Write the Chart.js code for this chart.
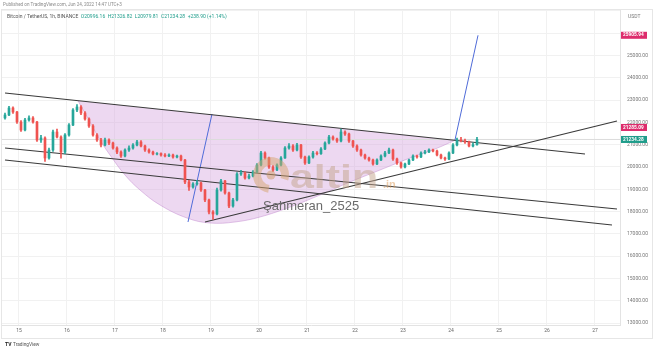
<!DOCTYPE html>
<html>
<head>
<meta charset="utf-8">
<script src="https://cdn.jsdelivr.net/npm/chart.js@4.4.0/dist/chart.umd.min.js"></script>
<style>
  html, body { margin: 0; padding: 0; background: #fff; }
</style>
</head>
<body>
<canvas id="btcChart" width="654" height="352"></canvas>
<script>
// BTC/USDT 1h (shown as 2h candles), 14 Jun 17:00 -> 24 Jun 14:00
const firstCandleDay = 14.7083
const candleStep = 1 / 12
const firstOpen = 22200
const closes = [22332, 22646, 22466, 22018, 21659, 22107, 22197, 22018, 21211, 21300, 20404, 20762, 21569, 21345, 20673, 21435, 21883, 22556, 22690, 22421,
  22152, 21838, 21435, 21211, 20986, 21211, 21076, 20852, 20673, 20493, 20762, 20852, 20986, 21121, 20942, 20762, 20673, 20583, 20600, 20538,
  20493, 20538, 20448, 20493, 20314, 19327, 19103, 19238, 19283, 18969, 18520, 17982, 17893, 18969, 19372, 18834, 18251, 18520, 19686, 19731,
  19507, 19596, 19776, 20090, 20628, 20404, 20000, 19865, 20090, 20404, 20852, 20942, 20762, 20986, 20448, 20179, 20448, 20628, 20600, 20807,
  21076, 21345, 21256, 21166, 21569, 21480, 21166, 20942, 20762, 20538, 20404, 20314, 20135, 20314, 20493, 20628, 20762, 20359, 20179, 20000,
  20135, 20314, 20493, 20450, 20628, 20673, 20762, 20717, 20538, 20404, 20359, 20628, 20986, 21211, 21180, 21121, 20942, 20996.16, 21234.28]
const highs = [22420, 22720, 22700, 22500, 22080, 22180, 22300, 22260, 22050, 21420, 21350, 20850, 21650, 21700, 21400, 21500, 21950, 22620, 22800, 22750,
  22480, 22200, 21900, 21500, 21280, 21300, 21260, 21120, 20900, 20720, 20820, 20950, 21050, 21200, 21180, 20980, 20820, 20710, 20650, 20640,
  20600, 20590, 20580, 20540, 20530, 20340, 19400, 19300, 19400, 19320, 19000, 18560, 18050, 19050, 19450, 19400, 18880, 18600, 19750, 19850,
  19780, 19680, 19840, 20150, 20700, 20680, 20450, 20060, 20140, 20470, 20920, 21050, 21000, 21060, 21020, 20490, 20500, 20700, 20690, 20870,
  21130, 21420, 21400, 21300, 21700, 21620, 21520, 21200, 20990, 20800, 20580, 20450, 20350, 20370, 20550, 20700, 20850, 20800, 20400, 20220,
  20180, 20360, 20550, 20540, 20680, 20750, 20820, 20800, 20760, 20580, 20440, 20680, 21050, 21300, 21330, 21250, 21160, 21080, 21326.82]
const lows = [22150, 22300, 22400, 21950, 21600, 21620, 22050, 21960, 21150, 21100, 20250, 20350, 20700, 21300, 20400, 20600, 21380, 21850, 22480, 22350,
  22100, 21780, 21380, 21150, 20900, 20950, 21000, 20800, 20600, 20430, 20450, 20700, 20800, 20950, 20900, 20700, 20620, 20540, 20540, 20490,
  20450, 20460, 20400, 20410, 20270, 19250, 18950, 19050, 19180, 18900, 18450, 17900, 17650, 17850, 18920, 18780, 18180, 18200, 18480, 19620,
  19450, 19460, 19550, 19740, 20050, 20350, 19940, 19800, 19830, 20050, 20380, 20800, 20700, 20720, 20380, 20120, 20150, 20400, 20540, 20560,
  20780, 21040, 21200, 21100, 21130, 21420, 21100, 20880, 20700, 20480, 20350, 20260, 20080, 20100, 20280, 20450, 20600, 20300, 20120, 19950,
  19960, 20100, 20280, 20400, 20420, 20590, 20640, 20680, 20500, 20360, 20300, 20330, 20600, 20950, 21120, 21060, 20900, 20900, 20979.81]

// drawings: [day, price]
const upperTrend = [[14.708, 23318], [26.792, 20583]]
const middleTrend = [[14.708, 20852], [27.458, 18117]]
const lowerTrend = [[14.708, 20314], [27.354, 17399]]
const risingTrend = [[18.875, 17534], [27.458, 22063]]
const blueLeg1 = [[18.521, 17534], [19.021, 22377]]
const blueLeg2 = [[24.083, 21211], [24.563, 25905.94]]
const cupArc = [[16.229, 22974], [16.479, 22018], [16.688, 21211], [16.896, 20538], [17.208, 19641], [17.521, 18969], [17.938, 18296],
  [18.5, 17713], [18.979, 17489], [19.5, 17534], [20.021, 17758], [20.646, 18206], [21.271, 18744], [21.896, 19327], [22.521, 19865],
  [23.146, 20404], [23.667, 20807], [24.083, 21196]]
const cupTop = [[16.229, 22974], [24.083, 21196]]

const dayTicks = [15, 16, 17, 18, 19, 20, 21, 22, 23, 24, 25, 26, 27]
const priceTicks = [13000, 14000, 15000, 16000, 17000, 18000, 19000, 20000, 21000, 22000, 23000, 24000, 25000, 26000, 27000]
const lastPrice = 21234.28
const priceLabels = [
  { value: 25905.94, text: '25905.94', color: '#dd2c6c' },
  { value: 21234.28, text: '21234.28', color: '#1f9d8b' },
  { value: 21285.09, text: '21285.09', color: '#dd2c6c' },
]

const UP = '#26a69a'
const DOWN = '#ef5350'

const opens = closes.map((c, i) => (i === 0 ? firstOpen : closes[i - 1]))
const times = closes.map((c, i) => firstCandleDay + i * candleStep)
const candleColors = closes.map((c, i) => (c >= opens[i] ? UP : DOWN))
const pts = arr => arr.map(p => ({ x: p[0], y: p[1] }))

function lineSet(data, color, width, order) {
  return {
    type: 'line', data: pts(data), borderColor: color, borderWidth: width,
    pointRadius: 0, fill: false, tension: 0, order: order
  }
}

const textPlugin = {
  id: 'tvText',
  afterDatasetsDraw(chart) {
    const ctx = chart.ctx
    ctx.save()
    // watermark logo
    ctx.globalAlpha = 0.5
    ctx.strokeStyle = '#d6a46e'
    ctx.lineWidth = 8
    ctx.beginPath()
    ctx.arc(271, 175, 14, Math.PI * 0.55, Math.PI * 2.1)
    ctx.stroke()
    ctx.fillStyle = '#d09a62'
    ctx.beginPath()
    ctx.arc(271, 175, 4.5, 0, Math.PI * 2)
    ctx.fill()
    ctx.fillStyle = '#c4a48c'
    ctx.textBaseline = 'alphabetic'
    ctx.save()
    ctx.translate(290, 188)
    ctx.scale(1.3, 1)
    ctx.font = 'bold 33px "Liberation Sans", Arial, sans-serif'
    ctx.fillText('altin', 0, 0)
    ctx.restore()
    ctx.fillStyle = '#dc9a55'
    ctx.font = 'bold 11px "Liberation Sans", Arial, sans-serif'
    ctx.fillText('.in', 383, 188)
    ctx.globalAlpha = 1
    ctx.fillStyle = '#6b6b6b'
    ctx.font = '13px "Liberation Sans", Arial, sans-serif'
    ctx.fillText('Şahmeran_2525', 263, 210)
    ctx.restore()
  },
  afterDraw(chart) {
    const ctx = chart.ctx
    const y = chart.scales.y
    ctx.save()
    ctx.textBaseline = 'middle'
    ctx.font = '4.6px Roboto, sans-serif'
    ctx.fillStyle = '#8a8a8a'
    ctx.fillText('Published on TradingView.com, Jun 24, 2022 14:47 UTC+3', 3, 5)
    ctx.font = '5px Roboto, sans-serif'
    ctx.fillStyle = '#555'
    const head = 'Bitcoin / TetherUS, 1h, BINANCE  '
    ctx.fillText(head, 7, 17)
    ctx.fillStyle = '#1f9d8b'
    ctx.fillText('O20996.16  H21326.82  L20979.81  C21234.28  +238.90 (+1.14%)', 7 + ctx.measureText(head).width, 17)
    ctx.fillStyle = '#777'
    ctx.fillText('USDT', 628, 17)
    // price scale labels
    let prevY = null
    priceLabels.forEach(l => {
      let py = y.getPixelForValue(l.value)
      if (prevY !== null && Math.abs(py - prevY) < 8) py = prevY - 12
      prevY = py
      ctx.fillStyle = l.color
      ctx.fillRect(621, py - 3.5, 26, 7)
      ctx.fillStyle = '#fff'
      ctx.font = 'bold 4.8px Roboto, sans-serif'
      ctx.fillText(l.text, 623, py)
    })
    // frame + logo
    ctx.strokeStyle = '#e6e6e6'
    ctx.lineWidth = 1
    ctx.strokeRect(1.5, 9.5, 651, 329)
    ctx.fillStyle = '#222'
    ctx.font = 'bold 5px Roboto, sans-serif'
    ctx.fillText('TV', 5, 345)
    ctx.font = '4.8px Roboto, sans-serif'
    ctx.fillStyle = '#555'
    ctx.fillText('TradingView', 13, 345)
    ctx.restore()
  }
}

new Chart(document.getElementById('btcChart'), {
  type: 'bar',
  data: {
    datasets: [
      {
        type: 'bar', data: times.map((t, i) => ({ x: t, y: [opens[i], closes[i]] })),
        backgroundColor: candleColors, barThickness: 2, grouped: false, order: 0, borderWidth: 0
      },
      {
        type: 'bar', data: times.map((t, i) => ({ x: t, y: [lows[i], highs[i]] })),
        backgroundColor: candleColors, barThickness: 1, grouped: false, order: 1, borderWidth: 0
      },
      lineSet(upperTrend, '#3a3a3a', 1.2, 2),
      lineSet(middleTrend, '#3a3a3a', 1.2, 2),
      lineSet(lowerTrend, '#3a3a3a', 1.2, 2),
      lineSet(risingTrend, '#3a3a3a', 1.2, 2),
      lineSet(blueLeg1, '#4f6bd8', 1, 2),
      lineSet(blueLeg2, '#4f6bd8', 1, 2),
      lineSet([[14.5, lastPrice], [27.6, lastPrice]], '#dcdcdc', 1, 3),
      {
        type: 'line', data: pts(cupArc), borderColor: 'rgba(190,130,205,0.45)', borderWidth: 1,
        backgroundColor: 'rgba(216,168,224,0.45)', pointRadius: 0, tension: 0.4, fill: '+1', order: 5
      },
      {
        type: 'line', data: pts(cupTop), borderWidth: 0, borderColor: 'rgba(0,0,0,0)',
        pointRadius: 0, fill: false, order: 6
      }
    ]
  },
  options: {
    responsive: false,
    animation: false,
    events: [],
    layout: { padding: { top: 10, left: 2, right: 0, bottom: 14 } },
    plugins: { legend: { display: false }, tooltip: { enabled: false } },
    scales: {
      x: {
        type: 'linear', min: 14.646, max: 27.521, offset: false,
        afterFit: s => { s.height = 13 },
        afterBuildTicks: s => { s.ticks = dayTicks.map(v => ({ value: v })) },
        grid: { color: '#f1f1f1', drawTicks: false, offset: false },
        border: { color: '#e3e3e3' },
        ticks: { autoSkip: false, maxRotation: 0, padding: 3, color: '#666',
          font: { size: 5, family: 'Roboto' }, callback: v => String(v) }
      },
      y: {
        type: 'linear', position: 'right', min: 12915, max: 27040,
        afterFit: s => { s.width = 34 },
        afterBuildTicks: s => { s.ticks = priceTicks.map(v => ({ value: v })) },
        grid: { color: '#f1f1f1', drawTicks: false },
        border: { color: '#e3e3e3' },
        ticks: { autoSkip: false, padding: 7, color: '#777',
          font: { size: 5, family: 'Roboto' }, callback: v => (v >= 26000 ? '' : v.toFixed(2)) }
      }
    }
  },
  plugins: [textPlugin]
})
</script>
</body>
</html>
